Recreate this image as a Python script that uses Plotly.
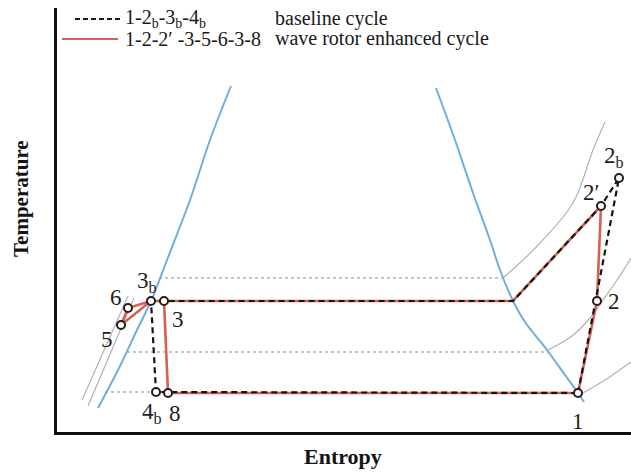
import plotly.graph_objects as go

# ---------------- data (arbitrary entropy / temperature units) ----------------
point_names = ["1", "2", "2'", "2b", "3", "3b", "4b", "8", "5", "6", "C"]
point_s = [521, 540, 544, 562, 107, 94, 99, 111, 64, 71, 456]
point_T = [39, 131, 226, 254, 131, 131, 40, 39, 107, 124, 131]

baseline_path = ["1", "2b", "2'", "C", "3b", "4b", "1"]
wave_path = ["1", "2", "2'", "C", "3", "3b", "5", "6", "3b", "3", "8", "1"]

# saturation dome
liq_s = [41, 61, 80, 94, 110, 133, 153, 174]
liq_T = [24, 62, 102, 131, 172, 232, 292, 346]
vap_s = [379, 398, 416, 433, 443, 456, 468, 490, 508, 521, 527]
vap_T = [344, 292, 239, 192, 162, 131, 110, 82, 57, 39, 30]

# isobars (grey)
iso_hi_s = [446, 466, 483, 516, 536, 548]
iso_hi_T = [154, 172, 189, 229, 282, 310]
iso_mid_s = [491, 515, 533, 546, 560, 574]
iso_mid_T = [82, 96, 114, 132, 152, 174]
iso_lo_s = [526, 548, 574]
iso_lo_T = [39, 52, 70]
iso_l1_s = [31, 77]
iso_l1_T = [26, 134]
iso_l2_s = [25, 71]
iso_l2_T = [32, 136]

# dotted two-phase lines
dot_T = [154, 80, 40]
dot_s0 = [102, 70, 48]
dot_s1 = [446, 491, 98]

# point labels
label_names = ["1", "2", "2'", "2b", "3", "3b", "4b", "8", "5", "6"]
label_text = ["1", "2", "2′", "2<sub>b</sub>", "3", "3<sub>b</sub>", "4<sub>b</sub>", "8", "5", "6"]

legend_codes = ["1-2<sub>b</sub>-3<sub>b</sub>-4<sub>b</sub>", "1-2-2′ -3-5-6-3-8"]
legend_desc = ["baseline cycle", "wave rotor enhanced cycle"]

# ---------------- figure ----------------
P = {n: (s, t) for n, s, t in zip(point_names, point_s, point_T)}

W, H = 631, 472
ML, MR, MT, MB = 57, 0, 8, 40
PW, PH = W - ML - MR, H - MT - MB

GREY = "rgb(175,180,182)"
BLUE = "rgb(110,175,222)"
RED = "rgb(214,96,84)"
DARK = "rgb(40,28,22)"
FONT = "Liberation Serif, Times New Roman, serif"

fig = go.Figure()

# dotted lines
for t, a, b in zip(dot_T, dot_s0, dot_s1):
    fig.add_trace(go.Scatter(x=[a, b], y=[t, t], mode="lines",
                             line=dict(color=GREY, width=1.6, dash="dot"),
                             hoverinfo="skip"))

# isobars
for xs, ys in [(iso_hi_s, iso_hi_T), (iso_mid_s, iso_mid_T), (iso_lo_s, iso_lo_T),
               (iso_l1_s, iso_l1_T), (iso_l2_s, iso_l2_T)]:
    fig.add_trace(go.Scatter(x=xs, y=ys, mode="lines",
                             line=dict(color=GREY, width=1.2, shape="spline"),
                             hoverinfo="skip"))

# dome
for xs, ys in [(liq_s, liq_T), (vap_s, vap_T)]:
    fig.add_trace(go.Scatter(x=xs, y=ys, mode="lines",
                             line=dict(color=BLUE, width=2, shape="spline"),
                             hoverinfo="skip"))

# wave rotor cycle (red)
fig.add_trace(go.Scatter(x=[P[n][0] for n in wave_path], y=[P[n][1] for n in wave_path],
                         mode="lines", line=dict(color=RED, width=2.6), hoverinfo="skip"))
# baseline cycle (dashed black)
fig.add_trace(go.Scatter(x=[P[n][0] for n in baseline_path], y=[P[n][1] for n in baseline_path],
                         mode="lines", line=dict(color="rgb(20,20,20)", width=2.2, dash="6px,4px"),
                         hoverinfo="skip"))

# markers
fig.add_trace(go.Scatter(x=[P[n][0] for n in label_names], y=[P[n][1] for n in label_names],
                         mode="markers",
                         marker=dict(symbol="circle", size=8, color="white",
                                     line=dict(color=DARK, width=2)),
                         hoverinfo="skip"))

# point labels
label_offsets = {"1": (0, -28), "2": (17, 0), "2'": (-10, 14), "2b": (-5, 21),
                 "3": (14, -18), "3b": (-4, 19), "4b": (-4, -21), "8": (7, -20),
                 "5": (-14, -14), "6": (-12, 11)}
for n, txt in zip(label_names, label_text):
    dx, dy = label_offsets[n]
    fig.add_annotation(x=P[n][0], y=P[n][1], text=txt, showarrow=False,
                       xshift=dx, yshift=dy, font=dict(family=FONT, size=23, color="rgb(30,30,30)"))

# legend (drawn manually)
def px(xp):
    return (xp - ML) / PW

def py(yp):
    return (H - MB - yp) / PH

fig.add_shape(type="line", xref="paper", yref="paper", x0=px(75), x1=px(120), y0=py(19), y1=py(19),
              line=dict(color="rgb(20,20,20)", width=2.2, dash="5px,3px"))
fig.add_shape(type="line", xref="paper", yref="paper", x0=px(62), x1=px(118), y0=py(39), y1=py(39),
              line=dict(color=RED, width=2.2))
for i, (code, desc) in enumerate(zip(legend_codes, legend_desc)):
    yy = py(19 + 20 * i)
    fig.add_annotation(xref="paper", yref="paper", x=px(123), y=yy, text=code, showarrow=False,
                       xanchor="left", yanchor="middle", font=dict(family=FONT, size=20, color="rgb(25,25,25)"))
    fig.add_annotation(xref="paper", yref="paper", x=px(273), y=yy, text=desc, showarrow=False,
                       xanchor="left", yanchor="middle", font=dict(family=FONT, size=20, color="rgb(25,25,25)"))

# axis titles
fig.add_annotation(xref="paper", yref="paper", x=px(343), y=py(456), text="<b>Entropy</b>",
                   showarrow=False, xanchor="center", yanchor="middle",
                   font=dict(family=FONT, size=22, color="rgb(20,20,20)"))
fig.add_annotation(xref="paper", yref="paper", x=px(21), y=py(199), text="<b>Temperature</b>",
                   showarrow=False, textangle=-90, xanchor="center", yanchor="middle",
                   font=dict(family=FONT, size=21, color="rgb(20,20,20)"))

fig.update_layout(
    width=W, height=H, margin=dict(l=ML, r=MR, t=MT, b=MB),
    paper_bgcolor="white", plot_bgcolor="white", showlegend=False,
    xaxis=dict(range=[0, PW], showgrid=False, zeroline=False, showticklabels=False, ticks="",
               showline=True, linecolor="rgb(15,15,15)", linewidth=3),
    yaxis=dict(range=[0, PH], showgrid=False, zeroline=False, showticklabels=False, ticks="",
               showline=True, linecolor="rgb(15,15,15)", linewidth=3),
)

fig.write_html("out.html")
